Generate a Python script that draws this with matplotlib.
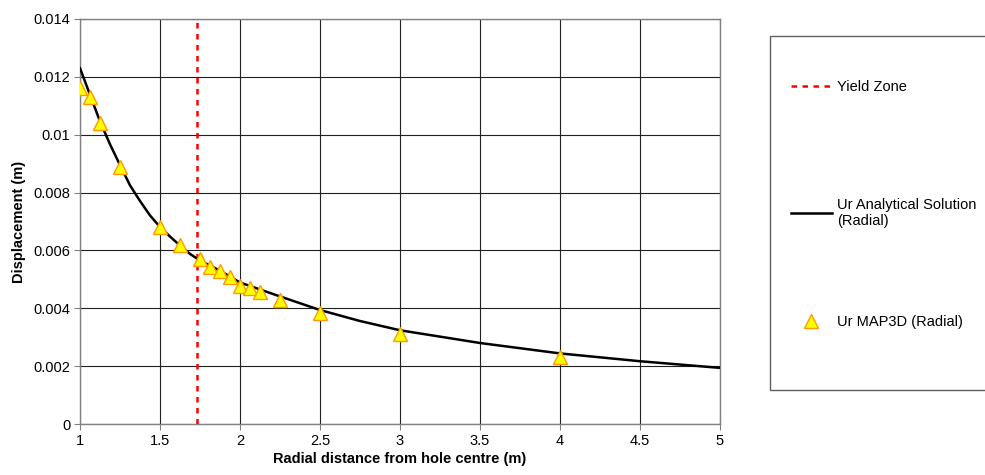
import matplotlib
matplotlib.use('Agg')
import matplotlib.pyplot as plt
from matplotlib.patches import Rectangle
from matplotlib.lines import Line2D

plt.rcParams['font.family'] = ['Liberation Sans', 'DejaVu Sans']

# analytical curve
r_anal = [1.0, 1.0625, 1.125, 1.1875, 1.25, 1.3125, 1.375, 1.4375, 1.5, 1.5625,
          1.625, 1.6875, 1.75, 1.875, 2.0, 2.25, 2.5, 2.75, 3.0, 3.5, 4.0, 4.5, 5.0]
u_anal = [0.0123, 0.01138, 0.01046, 0.00967, 0.00895, 0.00825, 0.00771, 0.00721,
          0.00681, 0.00648, 0.00617, 0.00588, 0.00565, 0.00530, 0.00489, 0.00441,
          0.00394, 0.00356, 0.00324, 0.00280, 0.00244, 0.00217, 0.00194]

# MAP3D points
r_map = [1.0, 1.0625, 1.125, 1.25, 1.5, 1.625, 1.75, 1.8125, 1.875, 1.9375,
         2.0, 2.0625, 2.125, 2.25, 2.5, 3.0, 4.0]
u_map = [0.0116, 0.0113, 0.0104, 0.0089, 0.0068, 0.0062, 0.0057, 0.00543,
         0.00528, 0.00507, 0.00477, 0.00470, 0.00458, 0.00429, 0.00382,
         0.00312, 0.00230]

yield_r = 1.732

fig = plt.figure(figsize=(9.85, 4.75), dpi=100)
ax = fig.add_axes([80/985, (475-424)/475, 640/985, (424-19)/475])

ax.axvline(yield_r, color='#FF0000', lw=1.8, linestyle=(0, (2.2, 2.2)), zorder=3)
ax.plot(r_anal, u_anal, color='black', lw=1.8, zorder=4)
ax.plot(r_map, u_map, linestyle='none', marker='^', markersize=9.5,
        markerfacecolor='#FFFF00', markeredgecolor='#FF9900', markeredgewidth=1,
        zorder=5)

ax.set_xlim(1, 5)
ax.set_ylim(0, 0.014)
ax.set_xticks([1, 1.5, 2, 2.5, 3, 3.5, 4, 4.5, 5])
ax.set_xticklabels(['1', '1.5', '2', '2.5', '3', '3.5', '4', '4.5', '5'])
ax.set_yticks([0, 0.002, 0.004, 0.006, 0.008, 0.01, 0.012, 0.014])
ax.set_yticklabels(['0', '0.002', '0.004', '0.006', '0.008', '0.01', '0.012', '0.014'])
ax.grid(True, color='#202020', lw=0.8)
ax.set_axisbelow(True)
for s in ax.spines.values():
    s.set_color('#808080')
    s.set_linewidth(1)
ax.tick_params(direction='out', length=4, color='#808080', labelsize=10.5, pad=3)

ax.set_xlabel('Radial distance from hole centre (m)', fontsize=10.5,
              fontweight='bold', labelpad=3)
ax.set_ylabel('Displacement (m)', fontsize=10.5, fontweight='bold', labelpad=5)

# legend box
fig.patches.append(Rectangle((770/985, (475-390)/475), (995-770)/985, 354/475,
                             transform=fig.transFigure, facecolor='white',
                             edgecolor='#606060', lw=1))

entries = [
    (Line2D([], [], color='#FF0000', lw=1.8, linestyle=(0, (2.2, 2.2))), 'Yield Zone', 87),
    (Line2D([], [], color='black', lw=1.8), 'Ur Analytical Solution\n(Radial)', 213),
    (Line2D([], [], linestyle='none', marker='^', markersize=9.5,
            markerfacecolor='#FFFF00', markeredgecolor='#FF9900'),
     'Ur MAP3D (Radial)', 322),
]
for h, lab, ypx in entries:
    lg = fig.legend([h], [lab], loc='center left',
                    bbox_to_anchor=(791/985, 1 - ypx/475), frameon=False,
                    fontsize=10.5, handlelength=2.8, handletextpad=0.35,
                    borderpad=0, borderaxespad=0)

fig.savefig('out.png', dpi=100)
